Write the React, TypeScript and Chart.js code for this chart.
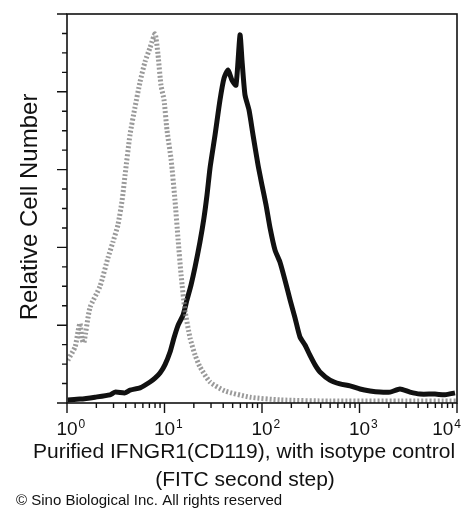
import { useEffect, useRef } from 'react';
import { Chart, registerables } from 'chart.js';

Chart.register(...registerables);

const FONT = '"Liberation Sans", Arial, Helvetica, sans-serif';

// Isotype control (gray dotted histogram)
const isoX = [1.02, 1.21, 1.3, 1.36, 1.42, 1.49, 1.72, 2.18, 2.63, 2.96, 3.33, 3.67, 3.94, 4.43, 4.98, 5.61, 6.31, 7.1, 8.0, 8.58, 9.2, 9.89, 10.6, 11.7, 12.8, 13.8, 14.8, 16.2, 18.3, 20.6, 23.1, 29.3, 41.7, 75.4, 153, 500, 2600, 10000];
const isoY = [11.0, 14.4, 18.5, 20.5, 16.5, 15.5, 24.5, 30.0, 37.3, 41.4, 45.8, 52.0, 58.6, 69.0, 76.0, 82.5, 87.7, 91.3, 94.9, 89.5, 81.7, 77.9, 70.2, 62.5, 52.2, 41.9, 32.9, 23.9, 16.7, 12.3, 9.3, 5.4, 3.1, 1.5, 0.8, 0.5, 0.5, 0.5];

// Purified IFNGR1 (CD119) stained sample (black histogram)
const cdX = [1.02, 1.36, 1.94, 2.76, 3.11, 3.94, 4.43, 5.61, 7.1, 7.99, 8.99, 10.1, 11.4, 12.5, 13.8, 15.5, 17.0, 18.7, 20.6, 23.1, 25.4, 27.3, 29.3, 33.0, 37.1, 40.8, 44.8, 49.2, 54.1, 59.5, 62.3, 66.9, 73.6, 80.9, 91.0, 100, 110, 121, 136, 153, 172, 194, 218, 245, 276, 310, 350, 393, 498, 631, 799, 1012, 1281, 1622, 2055, 2602, 3294, 4176, 5945, 7533, 9533];
const cdY = [0.8, 1.0, 1.5, 2.1, 2.8, 2.6, 3.3, 3.9, 5.4, 6.4, 7.7, 9.8, 13.1, 16.7, 20.0, 22.6, 26.5, 30.3, 35.0, 41.4, 47.6, 53.5, 60.4, 68.9, 77.9, 83.5, 85.6, 83.0, 81.7, 94.6, 88.2, 79.2, 75.3, 68.9, 61.2, 56.0, 50.9, 45.0, 39.3, 36.2, 31.6, 26.5, 21.9, 17.0, 14.9, 12.3, 9.8, 8.0, 5.9, 4.9, 4.4, 3.6, 3.1, 2.8, 2.8, 3.6, 2.8, 2.3, 2.3, 2.1, 2.6];

// Axis ticks and labels
const xMajorTicks = [1, 10, 100, 1000, 10000];
const xTickBase = '10';
const xTickExp = ['0', '1', '2', '3', '4'];
const yMajorTicks = [0, 20, 40, 60, 80, 100];
const yMinorStep = 5;

const xTitleLines = ['Purified IFNGR1(CD119), with isotype control', '(FITC second step)'];
const yTitle = 'Relative Cell Number';
const copyright = '\u00A9 Sino Biological Inc. All rights reserved';

const decor = {
  id: 'decor',
  afterDatasetsDraw(chart: any) {
    const { ctx, chartArea } = chart;
    const xs = chart.scales.x;
    const ys = chart.scales.y;
    const { left, right, top, bottom } = chartArea;
    ctx.save();
    ctx.strokeStyle = '#111';
    ctx.fillStyle = '#111';
    // frame
    ctx.lineWidth = 1.6;
    ctx.strokeRect(left, top, right - left, bottom - top);

    // x ticks
    ctx.lineWidth = 1.4;
    ctx.beginPath();
    for (let d = 1; d <= 10000; d *= 10) {
      const px = xs.getPixelForValue(d);
      ctx.moveTo(px, bottom);
      ctx.lineTo(px, bottom + 10);
      if (d < 10000) {
        for (let m = 2; m <= 9; m++) {
          const p = xs.getPixelForValue(d * m);
          ctx.moveTo(p, bottom);
          ctx.lineTo(p, bottom + 5);
        }
      }
    }
    // y ticks
    for (let v = 0; v <= 100; v += yMinorStep) {
      const py = ys.getPixelForValue(v);
      const major = yMajorTicks.includes(v);
      ctx.moveTo(left, py);
      ctx.lineTo(left - (major ? 10 : 5), py);
    }
    ctx.stroke();

    // x tick labels
    ctx.textBaseline = 'alphabetic';
    ctx.textAlign = 'left';
    xMajorTicks.forEach((v, i) => {
      const px = xs.getPixelForValue(v);
      ctx.font = `19px ${FONT}`;
      const bw = ctx.measureText(xTickBase).width;
      ctx.font = `12px ${FONT}`;
      const ew = ctx.measureText(xTickExp[i]).width;
      let x0 = px - bw / 2;
      if (x0 + bw + ew + 1 > 461) x0 = 461 - bw - ew - 1;
      ctx.font = `19px ${FONT}`;
      ctx.fillText(xTickBase, x0, 435);
      ctx.font = `12px ${FONT}`;
      ctx.fillText(xTickExp[i], x0 + bw + 1, 428);
    });

    // x title
    ctx.textAlign = 'center';
    ctx.font = `21px ${FONT}`;
    ctx.fillText(xTitleLines[0], 244, 458);
    ctx.fillText(xTitleLines[1], 245, 486);

    // y title
    ctx.save();
    ctx.translate(37, 207);
    ctx.rotate(-Math.PI / 2);
    ctx.font = `24px ${FONT}`;
    ctx.textAlign = 'center';
    ctx.fillText(yTitle, 0, 0);
    ctx.restore();

    // copyright
    ctx.textAlign = 'left';
    ctx.font = `15px ${FONT}`;
    ctx.fillText(copyright, 16, 505);
    ctx.restore();
  },
};

export default function App() {
  const ref = useRef<HTMLCanvasElement>(null);
  useEffect(() => {
    const chart = new Chart(ref.current as HTMLCanvasElement, {
      type: 'line',
      data: {
        datasets: [
          {
            label: 'Isotype control',
            data: isoX.map((x, i) => ({ x, y: isoY[i] })),
            borderColor: 'rgba(120,120,120,0.75)',
            borderWidth: 5,
            borderDash: [2, 2],
            pointRadius: 0,
            tension: 0.2,
            fill: false,
          },
          {
            label: 'IFNGR1 (CD119)',
            data: cdX.map((x, i) => ({ x, y: cdY[i] })),
            borderColor: '#111',
            borderWidth: 5,
            pointRadius: 0,
            tension: 0.2,
            fill: false,
          },
        ],
      },
      options: {
        animation: false,
        responsive: false,
        maintainAspectRatio: false,
        layout: { padding: { left: 67, right: 17, top: 14, bottom: 108 } },
        plugins: {
          legend: { display: false },
          tooltip: { enabled: false },
          title: { display: false },
        },
        scales: {
          x: { type: 'logarithmic', min: 1, max: 10000, display: false },
          y: { type: 'linear', min: 0, max: 100, display: false },
        },
      },
      plugins: [decor],
    });
    return () => chart.destroy();
  }, []);
  return (
    <div style={{ position: 'absolute', left: 0, top: 0, width: 474, height: 511, background: '#fff' }}>
      <canvas ref={ref} width={474} height={511} />
    </div>
  );
}
